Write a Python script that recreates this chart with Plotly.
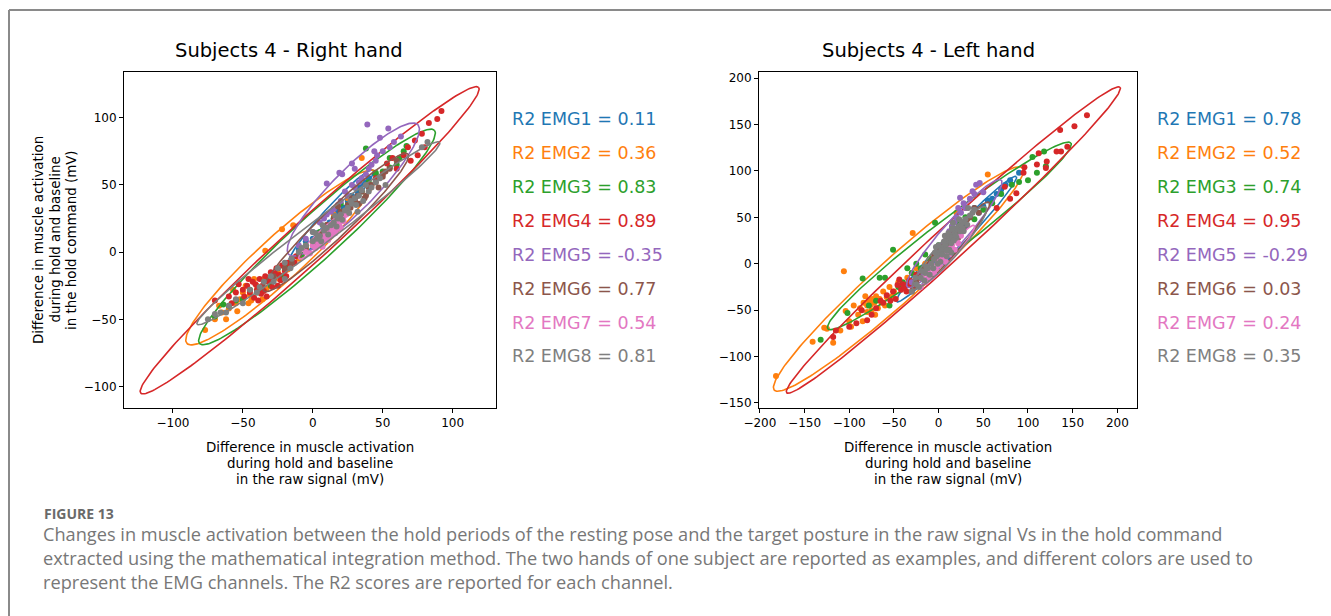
import numpy as np
import plotly.graph_objects as go

W, H = 1331, 616
COLORS = ["#1f77b4", "#ff7f0e", "#2ca02c", "#d62728", "#9467bd", "#8c564b", "#e377c2", "#7f7f7f"]
CHANNELS = ["EMG1", "EMG2", "EMG3", "EMG4", "EMG5", "EMG6", "EMG7", "EMG8"]

# ---------------- Right hand (left panel) ----------------
RH_R2 = ["0.11", "0.36", "0.83", "0.89", "-0.35", "0.77", "0.54", "0.81"]
RH_EMG1 = [(-10, 2), (-5, 8), (0, 10), (3, 14), (8, 18), (12, 22), (15, 25), (18, 30), (22, 33), (25, 38),
           (28, 42), (32, 45), (35, 50), (38, 52), (5, 12), (10, 15), (20, 28), (-8, -2), (30, 40), (14, 20),
           (7, 16), (17, 27), (27, 36), (33, 48), (40, 55)]
RH_EMG2 = [(-77, -58), (-65, -45), (-55, -38), (-50, -30), (-45, -32), (-40, -25), (-38, -30), (-35, -20),
           (-30, -22), (-25, -15), (-20, -10), (-15, -8), (-10, -5), (-5, 2), (0, 5), (5, 12), (10, 15),
           (-48, -25), (-52, -35), (-42, -20), (-28, -18), (-34, 1), (-22, 17), (-14, 20), (35, 70),
           (-60, -42), (-70, -50), (-57, -28), (-44, -36), (-33, -27), (15, 28), (25, 40),
           (-62, -50), (-67, -40), (-54, -44), (-46, -38), (-36, -35), (-24, -20), (-18, -13), (-8, -2), (3, 8)]
RH_EMG3 = [(-70, -48), (-60, -40), (-45, -28), (-35, -22), (-25, -12), (-15, -5), (-5, 5), (5, 15), (15, 25),
           (25, 35), (35, 45), (45, 58), (55, 70), (38, 77), (45, 59), (55, 63), (67, 79), (-22, -18),
           (-30, -25), (-40, -30), (-50, -35), (60, 65), (30, 48), (-64, -39), (20, 36),
           (-55, -36), (-38, -28), (-28, -20), (-18, -10), (-8, -2), (2, 10), (10, 20), (20, 30), (40, 52),
           (50, 60), (65, 75), (62, 70)]
RH_EMG4 = [(-70, -36), (-55, -30), (-50, -28), (-47, -25), (-45, -30), (-43, -22), (-40, -28), (-38, -20),
           (-36, -25), (-34, -18), (-32, -22), (-30, -15), (-28, -20), (-26, -12), (-24, -17), (-22, -10),
           (-20, -14), (-18, -8), (-15, -5), (-12, -3), (-60, -33), (-42, -34), (-37, -31), (-29, -26),
           (92, 105), (89, 99), (83, 96), (78, 88), (73, 83), (68, 78), (65, 72), (60, 62), (57, 70),
           (53, 66), (50, 58), (45, 55), (40, 50), (70, 68), (75, 72), (80, 78), (10, 20), (20, 30), (30, 38),
           (-53, -24), (-49, -33), (-46, -20), (-41, -24), (-39, -36), (-35, -29), (-31, -19), (-27, -16),
           (-23, -21), (-19, -18), (-16, -10), (-13, -8), (-33, -33), (-25, -25), (-58, -38)]
RH_EMG5 = [(39, 95), (54, 92), (63, 86), (19, 59), (21, 58), (28, 66), (46, 72), (44, 75), (10, 51),
           (0, 15), (5, 22), (10, 28), (15, 32), (20, 38), (25, 42), (30, 48), (35, 55), (40, 62),
           (45, 68), (50, 75), (-10, 5), (-5, 10), (58, 82), (48, 85),
           (8, 25), (13, 30), (18, 35), (23, 45), (28, 50), (33, 52), (38, 58), (42, 65), (30, 62), (55, 78)]
RH_EMG6 = [(-28, -18), (-20, -12), (-10, -2), (0, 8), (10, 20), (15, 25), (20, 30), (25, 35), (30, 38),
           (35, 45), (40, 48), (45, 52), (50, 56), (55, 62), (60, 68), (28, 40), (33, 36), (38, 42),
           (22, 28), (18, 34), (5, 13), (12, 18), (17, 23), (24, 30), (27, 33), (32, 42), (37, 40),
           (42, 50), (47, 48), (52, 60), (-15, -8), (-5, 3)]
RH_EMG7 = [(-5, 0), (0, 5), (3, 8), (6, 10), (9, 13), (12, 16), (15, 18), (18, 22), (21, 25), (24, 28),
           (2, 3), (8, 9), (13, 12), (17, 17), (-2, -1), (4, 6), (10, 12), (14, 15), (19, 20), (22, 23),
           (7, 4), (11, 9), (16, 14), (20, 18)]
RH_EMG8 = [(-66, -45), (-75, -50), (-60, -40), (-55, -35), (-45, -28), (-35, -22), (-25, -12), (-15, -5),
           (-10, 0), (-5, 5), (0, 8), (3, 10), (5, 12), (8, 16), (10, 18), (13, 20), (15, 22), (18, 25),
           (20, 28), (23, 31), (25, 33), (28, 36), (30, 40), (33, 42), (35, 46), (38, 50), (40, 45),
           (45, 52), (82, 82), (78, 78), (0, 15), (-20, -20),
           (-50, -38), (-40, -30), (-30, -18), (-20, -8), (-8, 3), (2, 14), (6, 8), (11, 13), (16, 27),
           (21, 24), (26, 29), (31, 35), (36, 38), (42, 48), (48, 55), (52, 50), (-38, -26), (-28, -22),
           (-16, -12), (7, 20), (17, 19), (27, 38), (32, 30), (-62, -45), (-70, -46)]
RH_ELL_CX = [13, -22.5, 3, -2.25, 29, 16.5, 7.5, 4]
RH_ELL_CY = [26.5, -4, 11.3, 8.8, 46.5, 22, 12.5, 14]
RH_ELL_A = [45.7, 93, 115.5, 165.9, 66.8, 72.5, 24.7, 110]
RH_ELL_B = [6, 16, 16, 15, 15, 10, 4, 9]
RH_ELL_ANG = [49, 43.5, 43.4, 43.3, 46.5, 44.7, 45, 38]

# ---------------- Left hand (right panel) ----------------
LH_R2 = ["0.78", "0.52", "0.74", "0.95", "-0.29", "0.03", "0.24", "0.35"]
LH_EMG1 = [(-30, -20), (-15, -5), (0, 10), (15, 25), (30, 40), (45, 55), (60, 70), (75, 85), (40, 60),
           (20, 30), (90, 98), (70, 80), (55, 68), (10, 18), (-5, 2), (5, 15), (25, 35), (35, 50),
           (50, 62), (65, 75), (80, 90)]
LH_EMG2 = [(-182, -121), (-141, -84), (-128, -69), (-118, -85), (-106, -8), (-104, -51), (-98, -68),
           (-90, -55), (-85, -62), (-80, -45), (-78, -40), (-75, -50), (-72, -42), (-70, -35), (-66, -38),
           (-62, -30), (-60, -45), (-55, -25), (-50, -30), (-45, -20), (-40, -22), (-35, -15), (-30, -10),
           (-25, -5), (-20, -8), (-15, 0), (-10, 5), (-29, 33), (55, 96), (20, 55), (30, 60), (-82, -35),
           (-88, -48), (-84, -42), (-80, -52), (-76, -44), (-74, -38), (-71, -55), (-68, -48), (-64, -42),
           (-58, -36), (-52, -35), (-100, -62), (-110, -72), (-95, -45), (-125, -70)]
LH_EMG3 = [(-85, -16), (-132, -82), (-66, -15), (-60, -15), (-45, -25), (-30, -10), (-20, -5), (-10, 5),
           (-51, 15), (-4, 44), (118, 121), (105, 115), (100, 90), (82, 85), (120, 105), (110, 98),
           (90, 88), (70, 75), (60, 65), (50, 58), (40, 48), (-55, -45), (-102, -53), (10, 22), (25, 35),
           (-40, -20), (-35, -5), (-25, 0), (-15, 10), (0, 20), (15, 40), (20, 45), (30, 50), (-70, -40),
           (-78, -45)]
LH_EMG4 = [(166, 160), (136, 144), (152, 148), (132, 121), (137, 121), (144, 126), (112, 119), (121, 110),
           (110, 107), (120, 103), (96, 104), (95, 98), (87, 76), (74, 83), (80, 70), (65, 60),
           (-44, -17), (-51, -30), (-58, -34), (-36, -30), (-29, -25), (-92, -64), (-80, -61), (-86, -50),
           (-118, -79), (-115, -72), (-40, -22), (-33, -18), (-48, -38), (-25, -12), (-20, -10),
           (-46, -23), (-42, -28), (-38, -26), (-34, -22), (-31, -19), (-27, -20), (-22, -15), (-54, -40),
           (-62, -42), (-70, -48), (-75, -55), (-100, -68), (-65, -40)]
LH_EMG5 = [(24, 71), (46, 87), (50, 77), (-20, -10), (-5, 5), (5, 20), (10, 30), (15, 40), (20, 50),
           (25, 55), (30, 60), (35, 70), (40, 75), (-30, -20), (0, 15), (8, 25), (12, 35), (18, 45),
           (22, 60), (28, 65), (38, 78), (42, 85), (-10, 0)]
LH_EMG6 = [(-20, -15), (-10, -5), (0, 5), (5, 15), (10, 25), (15, 30), (20, 35), (25, 40), (30, 45),
           (35, 50), (-5, 10), (12, 20), (22, 28), (40, 60), (-30, -30), (-15, -5), (2, 12), (8, 18),
           (18, 28), (28, 38), (32, 48), (-25, -20), (45, 55)]
LH_EMG7 = [(-20, -25), (-15, -20), (-10, -15), (-5, -10), (0, -2), (5, 5), (10, 12), (15, 20), (20, 25),
           (25, 30), (-12, -8), (8, 2), (18, 15), (-18, -15), (-8, -5), (2, 0), (12, 10), (22, 22), (-3, -6)]
LH_EMG8 = [(-30, -30), (-25, -22), (-20, -15), (-15, -10), (-12, -5), (-8, 0), (-5, 5), (-2, 8), (0, 12),
           (3, 15), (5, 18), (8, 20), (10, 25), (12, 28), (15, 30), (18, 33), (20, 38), (22, 40), (25, 42),
           (28, 45), (30, 48), (35, 52), (-10, -12), (-18, -8), (2, 2), (12, 15), (20, 28), (28, 35),
           (15, 38), (7, 30), (-3, 18), (-22, -25), (-16, -18), (-6, -5), (-1, 0), (4, 10), (9, 14),
           (14, 22), (17, 25), (19, 30), (24, 35), (27, 38), (32, 42), (38, 55), (40, 58), (-4, 12), (6, 24),
           (11, 33), (16, 44), (23, 48), (-14, -3), (9, 8), (14, 12), (-26, -15), (0, 20), (33, 60)]
LH_ELL_CX = [20, -45, 12, 16.5, 17.5, 15, 12, 12]
LH_ELL_CY = [26.5, -16.5, 30, 25.5, 32.5, 20, 10, 17]
LH_ELL_A = [95, 183.3, 168.8, 248.7, 77.9, 62, 42, 60]
LH_ELL_B = [9, 24, 18, 18, 13, 9, 6, 11]
LH_ELL_ANG = [45.2, 40.7, 36.3, 41.4, 47.6, 48, 48, 47]

RH_POINTS = [RH_EMG1, RH_EMG2, RH_EMG3, RH_EMG4, RH_EMG5, RH_EMG6, RH_EMG7, RH_EMG8]
LH_POINTS = [LH_EMG1, LH_EMG2, LH_EMG3, LH_EMG4, LH_EMG5, LH_EMG6, LH_EMG7, LH_EMG8]

TITLES = ["Subjects 4 - Right hand", "Subjects 4 - Left hand"]
XLABEL = ["Difference in muscle activation", "during hold and baseline", "in the raw signal (mV)"]
YLABEL = ["Difference in muscle activation", "during hold and baseline", "in the hold command (mV)"]
CAPTION_HEAD = "FIGURE 13"
CAPTION = [
    "Changes in muscle activation between the hold periods of the resting pose and the target posture in the raw signal Vs in the hold command",
    "extracted using the mathematical integration method. The two hands of one subject are reported as examples, and different colors are used to",
    "represent the EMG channels. The R2 scores are reported for each channel.",
]


def px(x):
    return x / W


def py(y):
    return 1 - y / H


def ellipse(cx, cy, a, b, ang):
    t = np.linspace(0, 2 * np.pi, 200)
    th = np.deg2rad(ang)
    x = cx + a * np.cos(t) * np.cos(th) - b * np.sin(t) * np.sin(th)
    y = cy + a * np.cos(t) * np.sin(th) + b * np.sin(t) * np.cos(th)
    return x, y


fig = go.Figure()

panels = [
    (RH_POINTS, RH_ELL_CX, RH_ELL_CY, RH_ELL_A, RH_ELL_B, RH_ELL_ANG, "x", "y"),
    (LH_POINTS, LH_ELL_CX, LH_ELL_CY, LH_ELL_A, LH_ELL_B, LH_ELL_ANG, "x2", "y2"),
]
for pts, cxs, cys, As, Bs, angs, xa, ya in panels:
    for i in range(8):
        xs = [p[0] for p in pts[i]]
        ys = [p[1] for p in pts[i]]
        fig.add_trace(go.Scatter(x=xs, y=ys, mode="markers", xaxis=xa, yaxis=ya,
                                 marker=dict(color=COLORS[i], size=6, line=dict(width=0)),
                                 showlegend=False, hoverinfo="skip"))
        ex, ey = ellipse(cxs[i], cys[i], As[i], Bs[i], angs[i])
        fig.add_trace(go.Scatter(x=ex, y=ey, mode="lines", xaxis=xa, yaxis=ya,
                                 line=dict(color=COLORS[i], width=1.6),
                                 showlegend=False, hoverinfo="skip"))

axis_common = dict(showline=True, linecolor="black", linewidth=1, mirror=True, ticks="outside",
                   ticklen=4, tickwidth=1, tickcolor="black", showgrid=False, zeroline=False,
                   automargin=False,
                   tickfont=dict(family="DejaVu Sans", size=12, color="black"))

fig.update_layout(
    width=W, height=H, margin=dict(l=0, r=0, t=0, b=0, autoexpand=False),
    paper_bgcolor="white", plot_bgcolor="white", showlegend=False,
    xaxis=dict(domain=[px(124), px(496)], range=[-135, 131], tickvals=[-100, -50, 0, 50, 100],
               anchor="y", **axis_common),
    yaxis=dict(domain=[py(408), py(72)], range=[-116, 134], tickvals=[-100, -50, 0, 50, 100],
               anchor="x", **axis_common),
    xaxis2=dict(domain=[px(759), px(1137)], range=[-201, 222],
                tickvals=[-200, -150, -100, -50, 0, 50, 100, 150, 200], anchor="y2", **axis_common),
    yaxis2=dict(domain=[py(408), py(72)], range=[-155.4, 206.5],
                tickvals=[-150, -100, -50, 0, 50, 100, 150, 200], anchor="x2", **axis_common),
)

ann = []
P = dict(xref="paper", yref="paper", showarrow=False)
# titles
for tx, t in zip([289, 928], TITLES):
    ann.append(dict(x=px(tx), y=py(51), text=t, xanchor="center", yanchor="middle",
                    font=dict(family="DejaVu Sans", size=19.5, color="black"), **P))
# legends (R2)
LEG_Y = [119, 153, 187, 221, 255, 289, 323, 356]
for lx, r2s in [(510, RH_R2), (1155, LH_R2)]:
    for i in range(8):
        ann.append(dict(x=px(lx), y=py(LEG_Y[i]), text=f"R2 {CHANNELS[i]} = {r2s[i]}",
                        xanchor="left", yanchor="middle",
                        font=dict(family="DejaVu Sans", size=17.5, color=COLORS[i]), **P))
# x labels
for cx in [310, 948]:
    for j, line in enumerate(XLABEL):
        ann.append(dict(x=px(cx), y=py(447 + 16 * j), text=line, xanchor="center",
                        yanchor="middle", font=dict(family="DejaVu Sans", size=13.4, color="black"), **P))
# y label (left panel only)
for j, line in enumerate(YLABEL):
    ann.append(dict(x=px(38 + 16.5 * j), y=py(240), text=line, textangle=-90,
                    xanchor="center", yanchor="middle",
                    font=dict(family="DejaVu Sans", size=13.4, color="black"), **P))
# caption
ann.append(dict(x=px(42), y=py(513), text=f"<b>{CAPTION_HEAD}</b>", xanchor="left",
                yanchor="middle", font=dict(family="Open Sans", size=14, color="#6a6a6a"), **P))
for j, line in enumerate(CAPTION):
    ann.append(dict(x=px(41), y=py(534 + 24 * j), text=line, xanchor="left",
                    yanchor="middle", font=dict(family="Open Sans", size=18.2, color="#777777"), **P))

fig.update_layout(annotations=ann)

# page frame lines
fig.update_layout(shapes=[
    dict(type="line", xref="paper", yref="paper", x0=px(9), x1=1, y0=py(10), y1=py(10),
         line=dict(color="#8a8a8a", width=2)),
    dict(type="line", xref="paper", yref="paper", x0=px(9), x1=px(9), y0=py(10), y1=0,
         line=dict(color="#8a8a8a", width=2)),
])

fig.write_html("out.html")
